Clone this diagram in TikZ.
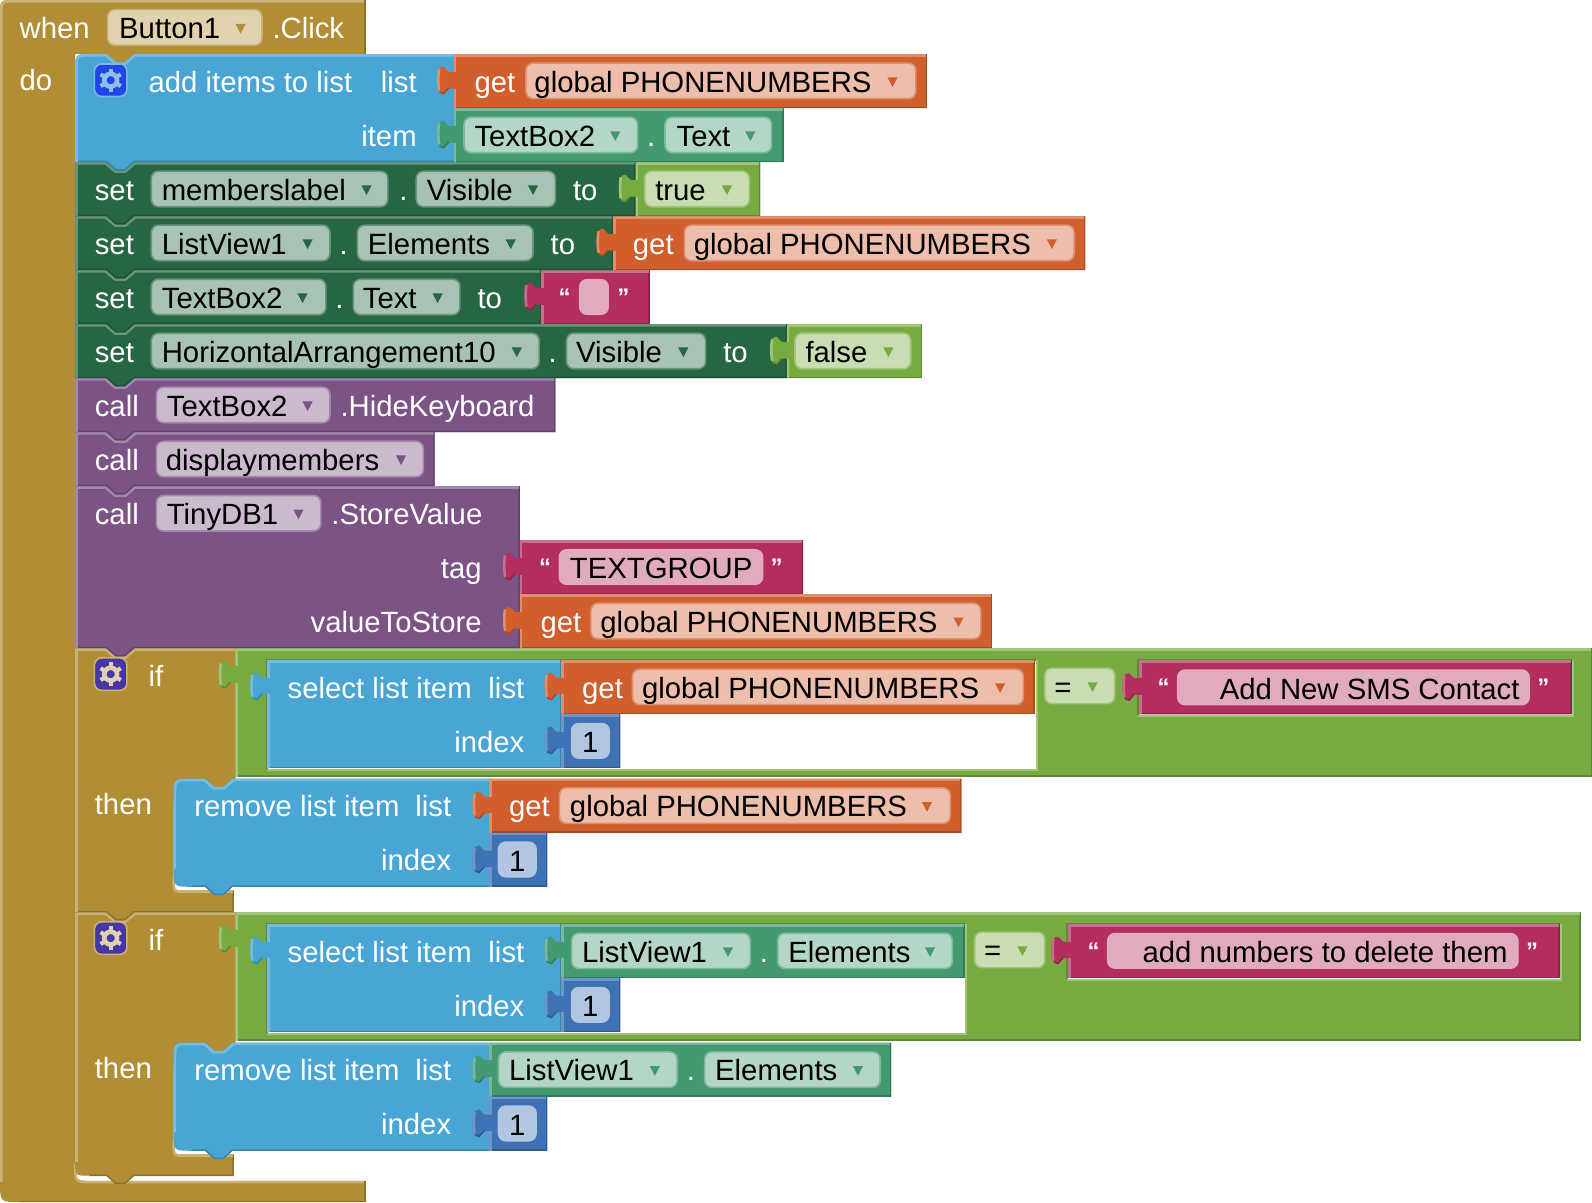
\documentclass[tikz,border=0pt]{standalone}
\usepackage{fontspec}
\setmainfont{Liberation Sans}
\usepackage{tikz}

%% Block colours
\definecolor{goldmain}{HTML}{B18E35}\definecolor{goldlight}{HTML}{C9B273}\definecolor{golddark}{HTML}{8E722A}\definecolor{goldfield}{HTML}{E0D2AE}
\definecolor{bluemain}{HTML}{49A5D4}\definecolor{bluelight}{HTML}{76BBE0}\definecolor{bluedark}{HTML}{3A84AA}
\definecolor{orgmain}{HTML}{D05F2D}\definecolor{orglight}{HTML}{DE8F6C}\definecolor{orgdark}{HTML}{A64C24}\definecolor{orgfield}{HTML}{ECBEAB}
\definecolor{tealmain}{HTML}{439970}\definecolor{teallight}{HTML}{7BB79A}\definecolor{tealdark}{HTML}{367A5A}\definecolor{tealfield}{HTML}{B3D6C6}
\definecolor{setmain}{HTML}{266643}\definecolor{setlight}{HTML}{67947B}\definecolor{setdark}{HTML}{1E5236}\definecolor{setfield}{HTML}{A8C2B4}
\definecolor{grnmain}{HTML}{77AB41}\definecolor{grnlight}{HTML}{A0C47A}\definecolor{grndark}{HTML}{5F8934}\definecolor{grnfield}{HTML}{C9DDB3}
\definecolor{magmain}{HTML}{B32D5E}\definecolor{maglight}{HTML}{C96D8E}\definecolor{magdark}{HTML}{8F244B}\definecolor{magfield}{HTML}{E1ABBF}
\definecolor{purmain}{HTML}{7C5385}\definecolor{purlight}{HTML}{A387AA}\definecolor{purdark}{HTML}{63426A}\definecolor{purfield}{HTML}{CBBACE}
\definecolor{nummain}{HTML}{3F71B5}\definecolor{numlight}{HTML}{7295C9}\definecolor{numdark}{HTML}{325A91}\definecolor{numfield}{HTML}{B2C6E1}
\definecolor{ifblue}{HTML}{4636A8}\definecolor{addblue}{HTML}{2244E8}\definecolor{gearblue}{HTML}{8FC1E8}

\tikzset{
    blocktext/.style={anchor=base west, inner sep=0pt, text=white, font=\fontsize{14.65}{17}\selectfont},
    blockright/.style={blocktext, anchor=base east, xshift=0.4pt},
    fieldtext/.style={blocktext, text=black},
    quotetext/.style={blocktext, anchor=base, yshift=1.5pt, font=\fontsize{12}{14}\selectfont\bfseries},
    hilite/.style={line width=1.3pt},
    edgeline/.style={line width=0.7pt},
    fieldbox/.style={line width=0.8pt, rounded corners=3.6pt},
}

%% Puzzle tab on the left side of a value block, walked upwards
\newcommand{\tabup}[2]{-- (#1,{#2+34}) -- ({#1-5},{#2+34}) -- ({#1-10},{#2+39.5}) .. controls ({#1-15},{#2+40}) and ({#1-16.5},{#2+34}) .. ({#1-16.5},{#2+26}) .. controls ({#1-16.5},{#2+18}) and ({#1-15},{#2+12}) .. ({#1-10},{#2+12.5}) -- ({#1-5},{#2+17.5}) -- (#1,{#2+17.5})}

%% Value block: colour, x1, y1, x2, y2
\newcommand{\valblock}[5]{
    \fill[#1main] (#2,#3) -- (#4,#3) -- (#4,#5) -- (#2,#5) \tabup{#2}{#3} -- cycle;
    \draw[edgeline, #1dark] ({#4-0.7},#3) -- ({#4-0.7},{#5-0.7}) -- (#2,{#5-0.7});
    \draw[edgeline, #1dark] ({#2-14},{#3+37.5}) -- ({#2-10},{#3+39}) -- ({#2-5},{#3+33.5});
    \draw[hilite, #1light] (#2,{#3+1.3}) -- ({#4-1},{#3+1.3});
    \draw[hilite, #1light] ({#2+1.3},#3) -- ({#2+1.3},{#3+17.5});
    \draw[hilite, #1light] ({#2+1.3},{#3+34}) -- ({#2+1.3},#5);
    \draw[hilite, #1light] ({#2-14.5},{#3+15}) .. controls ({#2-15.5},{#3+20}) and ({#2-15.5},{#3+30}) .. ({#2-14.5},{#3+36});
}

%% Statement block with notch on top and tab below: colour, x1, y1, x2, y2
\newcommand{\stmtblock}[5]{
    \fill[#1main] (#2,#3) -- ({#2+31},#3) -- ({#2+40},{#3+8}) -- ({#2+49},{#3+8}) -- ({#2+58},#3) -- (#4,#3) -- (#4,#5) -- ({#2+58},#5) -- ({#2+49},{#5+8}) -- ({#2+40},{#5+8}) -- ({#2+31},#5) -- (#2,#5) -- cycle;
    \draw[edgeline, #1dark] ({#4-0.7},#3) -- ({#4-0.7},{#5-0.7}) -- ({#2+58},{#5-0.7}) -- ({#2+49},{#5+7.5}) -- ({#2+40},{#5+7.5}) -- ({#2+31},{#5-0.7}) -- (#2,{#5-0.7});
    \draw[hilite, #1light] (#2,{#3+1.3}) -- ({#2+30},{#3+1.3}) -- ({#2+39.5},{#3+9.4}) -- ({#2+49.5},{#3+9.4}) -- ({#2+59},{#3+1.3}) -- ({#4-1},{#3+1.3});
    \draw[hilite, #1light] ({#2+1.3},#3) -- ({#2+1.3},#5);
}

%% Blue statement block with round corners: x1, y1, x2, y2, lower radius
\newcommand{\roundblock}[5]{
    \fill[bluemain] (#1,{#2+16}) .. controls (#1,#2) .. ({#1+16},#2) -- ({#1+31},#2) -- ({#1+40},{#2+8}) -- ({#1+49},{#2+8}) -- ({#1+58},#2) -- (#3,#2) -- (#3,#4) -- ({#1+58},#4) -- ({#1+49},{#4+8}) -- ({#1+40},{#4+8}) -- ({#1+31},#4) -- ({#1+#5},#4) .. controls (#1,#4) .. (#1,{#4-#5}) -- cycle;
    \draw[edgeline, bluedark] (#3,{#4-0.7}) -- ({#1+58},{#4-0.7}) -- ({#1+49},{#4+7.5}) -- ({#1+40},{#4+7.5}) -- ({#1+31},{#4-0.7}) -- ({#1+#5},{#4-0.7});
    \draw[hilite, bluelight] ({#1+1.3},{#4-#5}) -- ({#1+1.3},{#2+16}) .. controls ({#1+1.3},{#2+1.3}) .. ({#1+16},{#2+1.3}) -- ({#1+30},{#2+1.3}) -- ({#1+39.5},{#2+9.4}) -- ({#1+49.5},{#2+9.4}) -- ({#1+59},{#2+1.3}) -- (#3,{#2+1.3});
}

%% Gold if block: y1, lower arm top, y2, lower corner radius
\newcommand{\ifblock}[4]{
    \fill[goldmain] (74,#1) -- (105,#1) -- (114,{#1+8}) -- (123,{#1+8}) -- (132,#1) -- (232,#1) -- (232,{#2-87}) -- (171,{#2-87}) -- (171,{#2-12}) .. controls (171,#2) .. (183,#2) -- (230,#2) -- (230,#3) -- (132,#3) -- (123,{#3+8}) -- (114,{#3+8}) -- (105,#3) -- ({74+#4},#3) .. controls (74,#3) .. (74,{#3-#4}) -- cycle;
    \draw[edgeline, golddark] (229.6,#2) -- (229.6,{#3-0.4}) -- (132,{#3-0.4}) -- (123,{#3+7.5}) -- (114,{#3+7.5}) -- (105,{#3-0.4}) -- ({74+#4},{#3-0.4});
    \draw[hilite, goldlight] (74,{#1+1.3}) -- (104,{#1+1.3}) -- (113.5,{#1+9.4}) -- (123.5,{#1+9.4}) -- (133,{#1+1.3}) -- (232,{#1+1.3});
    \draw[hilite, goldlight] (75.3,#1) -- (75.3,{#3-#4});
    \draw[hilite, goldlight] (171,{#2-12}) .. controls (171,{#2+1.3}) .. (183,{#2+1.3}) -- (229,{#2+1.3});
}

%% Socket of a value block, white where no child covers it
\newcommand{\holebox}[5]{
    \fill[white] (#2,#3) rectangle (#4,#5);
    \draw[edgeline, #1dark] (#2,#5) -- (#2,#3) -- (#4,#3);
    \draw[hilite, #1light] (#2,{#5+1.3}) -- ({#4+1.3},{#5+1.3}) -- ({#4+1.3},#3);
}

%% Dropdown: name, colour, x1, x2, top, text x, arrow x, text
\newcommand{\dropfield}[8]{
    \draw[fieldbox, draw=#2light, fill=#2field] (#3,#5) rectangle (#4,{#5+35});
    \node[fieldtext] (#1) at ({#6-1},{#5+28.5}) {#8};
    \fill[#2main] ({#7-5},{#5+14}) -- ({#7+5},{#5+14}) -- (#7,{#5+23.5}) -- cycle;
}

%% Text field: name, colour, x1, x2, top, text x, text
\newcommand{\textfield}[7]{
    \draw[fieldbox, draw=#2field, fill=#2field] (#3,#5) rectangle (#4,{#5+34});
    \node[fieldtext] (#1) at (#6,{#5+28.5}) {#7};
}

%% Mutator icon: x1, top, fill, edge, gear colour
\newcommand{\gearicon}[5]{
    \draw[line width=0.8pt, rounded corners=3.6pt, draw=#4, fill=#3] (#1,#2) rectangle ({#1+32},{#2+32});
    \draw[line width=2.3pt, #5] ({#1+16},{#2+16}) circle[radius=3.2pt];
    \foreach \ang in {30,90,...,330}
        \draw[line width=2.1pt, #5] ({#1+16+7*cos(\ang)},{#2+16+7*sin(\ang)}) -- ({#1+16+11.5*cos(\ang)},{#2+16+11.5*sin(\ang)});
}

\begin{document}
\begin{tikzpicture}[x=0.5076pt, y=-0.5076pt]
    \useasboundingbox (0,0) rectangle (1568,1184);

    %% Outer event block
    \fill[goldmain] (0,14) .. controls (0,0) .. (14,0) -- (360,0) -- (360,53.2) -- (132,53.2) -- (123,61.2) -- (114,61.2) -- (105,53.2) -- (74,53.2) -- (74,1146) .. controls (74,1163) .. (91,1163) -- (360,1163) -- (360,1184) -- (20,1184) .. controls (0,1184) .. (0,1164) -- cycle;
    \draw[hilite, goldlight] (1.3,1164) -- (1.3,14) .. controls (1.3,1.3) .. (14,1.3) -- (359,1.3);
    \draw[hilite, goldlight] (74,1146) .. controls (74,1164.3) .. (91,1164.3) -- (359,1164.3);
    \draw[edgeline, golddark] (359.6,0) -- (359.6,53.2);
    \draw[edgeline, golddark] (359.6,1163) -- (359.6,1183.6) -- (20,1183.6);
    \node[blocktext] (whenlbl) at (19,37.5) {when};
    \dropfield{buttonfld}{gold}{106}{258}{9.5}{118}{237}{Button1}
    \node[blocktext] (clicklbl) at (268,37.5) {.Click};
    \node[blocktext] (dolbl) at (19,89.5) {do};

    %% Second if
    \ifblock{898.4}{1137}{1158}{14}
    \gearicon{93}{908}{ifblue}{goldlight}{goldfield}
    \node[blocktext] (iflbltwo) at (146,936) {if};
    \node[blocktext] (thenlbltwo) at (93,1062) {then};
    \roundblock{171}{1027}{482}{1133.4}{18}
    \node[blocktext] (removelbltwo) at (191,1064) {remove list item};
    \node[blockright] (removelisttwo) at (444,1064) {list};
    \node[blockright] (removeidxtwo) at (444,1117) {index};
    \valblock{teal}{482}{1027}{878}{1080.2}
    \dropfield{listfldc}{teal}{491}{667}{1036}{502}{645}{ListView1}
    \node[blocktext] (dotc) at (676,1064) {.};
    \dropfield{elemfldc}{teal}{694}{867}{1036}{705}{845}{Elements}
    \valblock{num}{482}{1080.2}{539}{1133.4}
    \textfield{numd}{num}{491}{528}{1089.5}{501}{1}
    \valblock{grn}{232}{898.4}{1557}{1025}
    \holebox{grn}{263}{910}{950}{1017}
    \holebox{grn}{1051}{910}{1536}{964}
    \valblock{blue}{263}{910}{553}{1016.4}
    \node[blocktext] (selectlbltwo) at (283,947.5) {select list item};
    \node[blockright] (selectlisttwo) at (516,947.5) {list};
    \node[blockright] (selectidxtwo) at (516,1000.7) {index};
    \valblock{teal}{553}{910}{950}{963.2}
    \dropfield{listfldb}{teal}{563}{739}{919}{574}{717}{ListView1}
    \node[blocktext] (dotb) at (748,947.5) {.};
    \dropfield{elemfldb}{teal}{766}{938}{919}{777}{916}{Elements}
    \valblock{num}{553}{963.2}{611}{1016.4}
    \textfield{numc}{num}{563}{600}{972.7}{573}{1}
    \dropfield{eqfldb}{grn}{960}{1029}{918}{970}{1007}{=}
    \valblock{mag}{1052}{910}{1536}{963.2}
    \node[quotetext] (qopend) at (1077,947.5) {“};
    \textfield{addnumfld}{mag}{1091}{1495}{919.5}{1125}{add numbers to delete them}
    \node[quotetext] (qclosed) at (1509,947.5) {”};

    %% First if
    \ifblock{638.4}{877}{898.4}{0}
    \gearicon{93}{648}{ifblue}{goldlight}{goldfield}
    \node[blocktext] (iflblone) at (146,676) {if};
    \node[blocktext] (thenlblone) at (93,802) {then};
    \roundblock{171}{767}{482}{873.4}{18}
    \node[blocktext] (removelblone) at (191,804) {remove list item};
    \node[blockright] (removelistone) at (444,804) {list};
    \node[blockright] (removeidxone) at (444,857) {index};
    \valblock{org}{482}{767}{947}{820.2}
    \node[blocktext] (getf) at (501,804) {get};
    \dropfield{globalf}{org}{551}{936}{776}{562}{913}{global PHONENUMBERS}
    \valblock{num}{482}{820.2}{539}{873.4}
    \textfield{numb}{num}{491}{528}{829.5}{501}{1}
    \valblock{grn}{232}{638.4}{1568}{765}
    \holebox{grn}{263}{650}{1020}{757}
    \holebox{grn}{1121}{650}{1548}{704}
    \valblock{blue}{263}{650}{553}{756.4}
    \node[blocktext] (selectlblone) at (283,687.5) {select list item};
    \node[blockright] (selectlistone) at (516,687.5) {list};
    \node[blockright] (selectidxone) at (516,740.7) {index};
    \valblock{org}{553}{650}{1019}{703.2}
    \node[blocktext] (gete) at (573,687.5) {get};
    \dropfield{globale}{org}{623}{1008}{659}{633}{985}{global PHONENUMBERS}
    \valblock{num}{553}{703.2}{611}{756.4}
    \textfield{numa}{num}{563}{600}{712.7}{573}{1}
    \dropfield{eqflda}{grn}{1029}{1098}{658}{1039}{1076}{=}
    \valblock{mag}{1122}{650.5}{1548}{703.7}
    \node[quotetext] (qopenc) at (1146,687.5) {“};
    \textfield{addnewfld}{mag}{1160}{1506}{660}{1201}{Add New SMS Contact}
    \node[quotetext] (qclosec) at (1520,687.5) {”};

    %% Store value
    \stmtblock{pur}{74}{478.8}{512}{638.4}
    \node[blocktext] (calllblc) at (93,516.3) {call};
    \dropfield{tinyfld}{pur}{154}{316}{488}{165}{294}{TinyDB1}
    \node[blocktext] (storelbl) at (326,516.3) {.StoreValue};
    \node[blockright] (taglbl) at (474,569.5) {tag};
    \node[blockright] (vallbl) at (474,622.7) {valueToStore};
    \valblock{mag}{512}{532}{791}{585.2}
    \node[quotetext] (qopenb) at (537,569.5) {“};
    \textfield{tgroupfld}{mag}{551}{751}{541.5}{561}{TEXTGROUP}
    \node[quotetext] (qcloseb) at (765,569.5) {”};
    \valblock{org}{512}{585.2}{977}{638.4}
    \node[blocktext] (getd) at (532,622.7) {get};
    \dropfield{globald}{org}{582}{966}{594.2}{592}{944}{global PHONENUMBERS}

    %% Procedure call
    \stmtblock{pur}{74}{425.6}{428}{478.8}
    \node[blocktext] (calllblb) at (93,463.1) {call};
    \dropfield{displayfld}{pur}{154}{417}{434.6}{164}{395}{displaymembers}

    %% Hide keyboard
    \stmtblock{pur}{74}{372.4}{547}{425.6}
    \node[blocktext] (calllbla) at (93,409.9) {call};
    \dropfield{tboxfldc}{pur}{154}{325}{381.4}{165}{303}{TextBox2}
    \node[blocktext] (hidelbl) at (335,409.9) {.HideKeyboard};

    %% Setters
    \stmtblock{set}{74}{319.2}{775}{372.4}
    \node[blocktext] (setlbld) at (93,356.7) {set};
    \dropfield{horizfld}{set}{149}{531}{328.2}{160}{509}{HorizontalArrangement10}
    \node[blocktext] (dotg) at (540,356.7) {.};
    \dropfield{visfldb}{set}{558}{695}{328.2}{568}{673}{Visible}
    \node[blocktext] (tolbld) at (712,356.7) {to};
    \valblock{grn}{775}{319.2}{908}{372.4}
    \dropfield{falsefld}{grn}{783}{897}{328.2}{794}{875}{false}

    \stmtblock{set}{74}{266}{533}{319.2}
    \node[blocktext] (setlblc) at (93,303.5) {set};
    \dropfield{tboxfldb}{set}{149}{321}{275}{160}{298}{TextBox2}
    \node[blocktext] (dotf) at (330,303.5) {.};
    \dropfield{textfldb}{set}{348}{453}{275}{358}{431}{Text}
    \node[blocktext] (tolblc) at (470,303.5) {to};
    \valblock{mag}{533}{266}{640}{319.2}
    \node[quotetext] (qopena) at (556,303.5) {“};
    \textfield{emptyfld}{mag}{571}{599}{275.5}{585}{}
    \node[quotetext] (qclosea) at (614,303.5) {”};

    \stmtblock{set}{74}{212.8}{604}{266}
    \node[blocktext] (setlblb) at (93,250.3) {set};
    \dropfield{listflda}{set}{149}{325}{221.8}{160}{303}{ListView1}
    \node[blocktext] (dote) at (334,250.3) {.};
    \dropfield{elemflda}{set}{352}{525}{221.8}{363}{503}{Elements}
    \node[blocktext] (tolblb) at (542,250.3) {to};
    \valblock{org}{604}{212.8}{1069}{266}
    \node[blocktext] (getc) at (623,250.3) {get};
    \dropfield{globalc}{org}{674}{1058}{221.8}{684}{1036}{global PHONENUMBERS}

    \stmtblock{set}{74}{159.6}{626}{212.8}
    \node[blocktext] (setlbla) at (93,197.1) {set};
    \dropfield{membersfld}{set}{149}{382}{168.6}{160}{361}{memberslabel}
    \node[blocktext] (dotd) at (393,197.1) {.};
    \dropfield{visflda}{set}{410}{547}{168.6}{421}{525}{Visible}
    \node[blocktext] (tolbla) at (564,197.1) {to};
    \valblock{grn}{626}{159.6}{749}{212.8}
    \dropfield{truefld}{grn}{635}{738}{168.6}{646}{716}{true}

    %% Add items to list
    \roundblock{74}{53.2}{447}{159.6}{0}
    \gearicon{93}{63}{addblue}{bluelight}{gearblue}
    \node[blocktext] (addlbl) at (146,90.7) {add items to list};
    \node[blockright] (addlistlbl) at (410,90.7) {list};
    \node[blockright] (additemlbl) at (410,143.9) {item};
    \valblock{org}{447}{53.2}{913}{106.4}
    \node[blocktext] (geta) at (467,90.7) {get};
    \dropfield{globala}{org}{518}{902}{62.2}{527}{879}{global PHONENUMBERS}
    \valblock{teal}{447}{106.4}{772}{159.6}
    \dropfield{tboxflda}{teal}{457}{628}{115.4}{468}{606}{TextBox2}
    \node[blocktext] (dota) at (637,143.9) {.};
    \dropfield{textflda}{teal}{655}{760}{115.4}{667}{739}{Text}
\end{tikzpicture}
\end{document}
